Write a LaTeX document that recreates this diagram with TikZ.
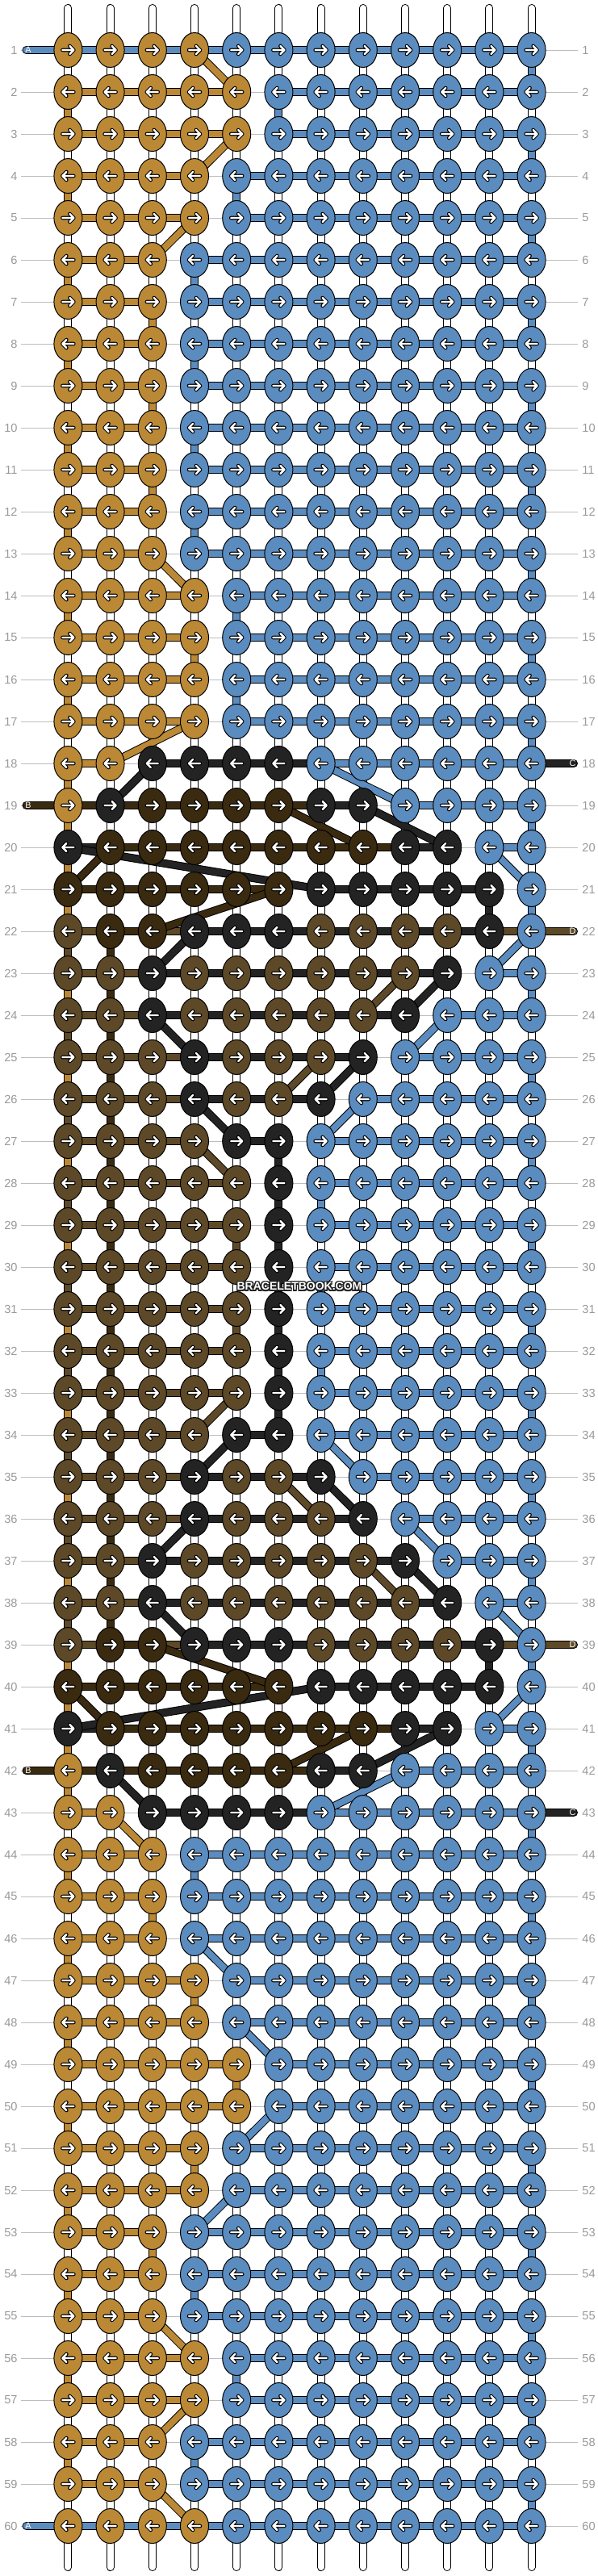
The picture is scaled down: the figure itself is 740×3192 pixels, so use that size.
\documentclass[tikz,border=0pt]{standalone}
\usepackage{fontspec}
\setmainfont{Liberation Sans}
\usetikzlibrary{shapes.geometric}
\definecolor{cg}{HTML}{BB8935}
\definecolor{cb}{HTML}{5B8CBF}
\definecolor{cd}{HTML}{3A2A0F}
\definecolor{cm}{HTML}{5D4927}
\definecolor{ck}{HTML}{232323}
\definecolor{cw}{HTML}{FFFFFF}
\definecolor{lbl}{HTML}{9A9A9A}
\definecolor{rowline}{HTML}{BDBDBD}
\pgfdeclarelayer{bgl}\pgfdeclarelayer{strl}\pgfdeclarelayer{barl}\pgfdeclarelayer{diagl}
\pgfsetlayers{bgl,strl,barl,diagl,main}
\tikzset{
 knot/.style={ellipse, draw=black, line width=0.5pt, minimum width=17.5pt, minimum height=21.5pt, inner sep=0pt},
 strand/.style={draw=black, line width=0.5pt, double=#1, double distance=4pt},
 vstr/.style={draw=black, line width=0.5pt, double=#1, double distance=4pt},
 endout/.style={draw=black, line width=5pt, line cap=round},
 endin/.style={draw=#1, line width=4pt, line cap=round},
 arrowout/.style={draw=black, line width=2.3pt, line cap=round, line join=round},
 arrowin/.style={draw=white, line width=1.2pt, line cap=round, line join=round},
 rowlab/.style={text=lbl, font=\fontsize{7.3pt}{8pt}\selectfont, inner sep=0pt},
 rowln/.style={draw=rowline, line width=0.5pt},
 threadlab/.style={text=white, font=\fontsize{5.4pt}{6pt}\selectfont, inner sep=0pt},
 wmfont/.style={font=\fontsize{7pt}{8pt}\bfseries\selectfont, inner sep=0pt}
}
\def\rows{%
1/{g,g,g,g,b,b,b,b,b,b,b,b}/{b,b,b,b,b,b,b,b,b,b,b}/{w,w,w,w,w,w,w,w,w,w,w,b},
2/{g,g,g,g,g,b,b,b,b,b,b,b}/{g,g,g,g,-,b,b,b,b,b,b}/{g,w,w,w,w,b,w,w,w,w,w,w},
3/{g,g,g,g,g,b,b,b,b,b,b,b}/{g,g,g,g,-,b,b,b,b,b,b}/{w,w,w,w,w,w,w,w,w,w,w,b},
4/{g,g,g,g,b,b,b,b,b,b,b,b}/{g,g,g,-,b,b,b,b,b,b,b}/{g,w,w,w,b,w,w,w,w,w,w,w},
5/{g,g,g,g,b,b,b,b,b,b,b,b}/{g,g,g,-,b,b,b,b,b,b,b}/{w,w,w,w,w,w,w,w,w,w,w,b},
6/{g,g,g,b,b,b,b,b,b,b,b,b}/{g,g,-,b,b,b,b,b,b,b,b}/{g,w,w,b,w,w,w,w,w,w,w,w},
7/{g,g,g,b,b,b,b,b,b,b,b,b}/{g,g,-,b,b,b,b,b,b,b,b}/{w,w,g,w,w,w,w,w,w,w,w,b},
8/{g,g,g,b,b,b,b,b,b,b,b,b}/{g,g,-,b,b,b,b,b,b,b,b}/{g,w,w,b,w,w,w,w,w,w,w,w},
9/{g,g,g,b,b,b,b,b,b,b,b,b}/{g,g,-,b,b,b,b,b,b,b,b}/{w,w,g,w,w,w,w,w,w,w,w,b},
10/{g,g,g,b,b,b,b,b,b,b,b,b}/{g,g,-,b,b,b,b,b,b,b,b}/{g,w,w,b,w,w,w,w,w,w,w,w},
11/{g,g,g,b,b,b,b,b,b,b,b,b}/{g,g,-,b,b,b,b,b,b,b,b}/{w,w,g,w,w,w,w,w,w,w,w,b},
12/{g,g,g,b,b,b,b,b,b,b,b,b}/{g,g,-,b,b,b,b,b,b,b,b}/{g,w,w,b,w,w,w,w,w,w,w,w},
13/{g,g,g,b,b,b,b,b,b,b,b,b}/{g,g,-,b,b,b,b,b,b,b,b}/{w,w,w,w,w,w,w,w,w,w,w,b},
14/{g,g,g,g,b,b,b,b,b,b,b,b}/{g,g,g,-,b,b,b,b,b,b,b}/{g,w,w,w,b,w,w,w,w,w,w,w},
15/{g,g,g,g,b,b,b,b,b,b,b,b}/{g,g,g,-,b,b,b,b,b,b,b}/{w,w,w,g,w,w,w,w,w,w,w,b},
16/{g,g,g,g,b,b,b,b,b,b,b,b}/{g,g,g,-,b,b,b,b,b,b,b}/{g,w,w,w,b,w,w,w,w,w,w,w},
17/{g,g,g,g,b,b,b,b,b,b,b,b}/{g,g,g,-,b,b,b,b,b,b,b}/{w,w,w,w,w,w,w,w,w,w,w,b},
18/{g,g,k,k,k,k,b,b,b,b,b,b}/{g,-,k,k,k,k,b,b,b,b,b}/{g,w,w,w,w,w,w,w,w,w,w,w},
19/{g,k,d,d,d,d,k,k,b,b,b,b}/{d,d,d,d,d,d,k,-,b,b,b}/{g,w,w,w,w,w,w,w,w,w,w,b},
20/{k,d,d,d,d,d,d,d,k,k,b,b}/{k,d,d,d,d,d,d,d,k,-,b}/{g,w,w,w,w,w,w,w,w,w,w,w},
21/{d,d,d,d,d,d,k,k,k,k,k,b}/{d,d,d,d,d,-,k,k,k,k,-}/{g,w,w,w,w,w,w,w,w,w,k,b},
22/{m,d,d,k,k,k,m,m,m,m,k,b}/{m,d,m,k,k,k,k,k,k,k,m}/{m,d,w,w,w,w,w,w,w,w,w,w},
23/{m,m,k,m,m,m,m,m,m,k,b,b}/{m,m,k,k,k,k,k,k,k,-,b}/{g,d,w,w,w,w,w,w,w,w,w,b},
24/{m,m,k,m,m,m,m,m,k,b,b,b}/{m,m,k,k,k,k,k,k,-,b,b}/{m,d,w,w,w,w,w,w,w,w,w,w},
25/{m,m,m,k,m,m,m,k,b,b,b,b}/{m,m,m,k,k,k,k,-,b,b,b}/{g,d,w,w,w,w,w,w,w,w,w,b},
26/{m,m,m,k,m,m,k,b,b,b,b,b}/{m,m,m,k,k,k,-,b,b,b,b}/{m,d,w,w,w,w,w,w,w,w,w,w},
27/{m,m,m,m,k,k,b,b,b,b,b,b}/{m,m,m,-,k,-,b,b,b,b,b}/{g,d,w,w,w,k,w,w,w,w,w,b},
28/{m,m,m,m,m,k,b,b,b,b,b,b}/{m,m,m,m,-,-,b,b,b,b,b}/{m,d,w,w,w,k,b,w,w,w,w,w},
29/{m,m,m,m,m,k,b,b,b,b,b,b}/{m,m,m,m,-,-,b,b,b,b,b}/{g,d,w,w,m,k,w,w,w,w,w,b},
30/{m,m,m,m,m,k,b,b,b,b,b,b}/{m,m,m,m,-,-,b,b,b,b,b}/{m,d,w,w,w,k,b,w,w,w,w,w},
31/{m,m,m,m,m,k,b,b,b,b,b,b}/{m,m,m,m,-,-,b,b,b,b,b}/{g,d,w,w,m,k,w,w,w,w,w,b},
32/{m,m,m,m,m,k,b,b,b,b,b,b}/{m,m,m,m,-,-,b,b,b,b,b}/{m,d,w,w,w,k,b,w,w,w,w,w},
33/{m,m,m,m,m,k,b,b,b,b,b,b}/{m,m,m,m,-,-,b,b,b,b,b}/{g,d,w,w,w,k,w,w,w,w,w,b},
34/{m,m,m,m,k,k,b,b,b,b,b,b}/{m,m,m,-,k,-,b,b,b,b,b}/{m,d,w,w,w,w,w,w,w,w,w,w},
35/{m,m,m,k,m,m,k,b,b,b,b,b}/{m,m,m,k,k,k,-,b,b,b,b}/{g,d,w,w,w,w,w,w,w,w,w,b},
36/{m,m,m,k,m,m,m,k,b,b,b,b}/{m,m,m,k,k,k,k,-,b,b,b}/{m,d,w,w,w,w,w,w,w,w,w,w},
37/{m,m,k,m,m,m,m,m,k,b,b,b}/{m,m,k,k,k,k,k,k,-,b,b}/{g,d,w,w,w,w,w,w,w,w,w,b},
38/{m,m,k,m,m,m,m,m,m,k,b,b}/{m,m,k,k,k,k,k,k,k,-,b}/{m,d,w,w,w,w,w,w,w,w,w,w},
39/{m,d,d,k,k,k,m,m,m,m,k,b}/{m,d,m,k,k,k,k,k,k,k,m}/{g,w,w,w,w,w,w,w,w,w,k,b},
40/{d,d,d,d,d,d,k,k,k,k,k,b}/{d,d,d,d,d,-,k,k,k,k,-}/{g,w,w,w,w,w,w,w,w,w,w,w},
41/{k,d,d,d,d,d,d,d,k,k,b,b}/{k,d,d,d,d,d,d,d,k,-,b}/{g,w,w,w,w,w,w,w,w,w,w,b},
42/{g,k,d,d,d,d,k,k,b,b,b,b}/{d,d,d,d,d,d,k,-,b,b,b}/{g,w,w,w,w,w,w,w,w,w,w,w},
43/{g,g,k,k,k,k,b,b,b,b,b,b}/{g,-,k,k,k,k,b,b,b,b,b}/{w,w,w,w,w,w,w,w,w,w,w,b},
44/{g,g,g,b,b,b,b,b,b,b,b,b}/{g,g,-,b,b,b,b,b,b,b,b}/{g,w,w,b,w,w,w,w,w,w,w,w},
45/{g,g,g,b,b,b,b,b,b,b,b,b}/{g,g,-,b,b,b,b,b,b,b,b}/{w,w,g,w,w,w,w,w,w,w,w,b},
46/{g,g,g,b,b,b,b,b,b,b,b,b}/{g,g,-,b,b,b,b,b,b,b,b}/{g,w,w,w,w,w,w,w,w,w,w,w},
47/{g,g,g,g,b,b,b,b,b,b,b,b}/{g,g,g,-,b,b,b,b,b,b,b}/{w,w,w,g,w,w,w,w,w,w,w,b},
48/{g,g,g,g,b,b,b,b,b,b,b,b}/{g,g,g,-,b,b,b,b,b,b,b}/{g,w,w,w,w,w,w,w,w,w,w,w},
49/{g,g,g,g,g,b,b,b,b,b,b,b}/{g,g,g,g,-,b,b,b,b,b,b}/{w,w,w,w,g,w,w,w,w,w,w,b},
50/{g,g,g,g,g,b,b,b,b,b,b,b}/{g,g,g,g,-,b,b,b,b,b,b}/{g,w,w,w,w,w,w,w,w,w,w,w},
51/{g,g,g,g,b,b,b,b,b,b,b,b}/{g,g,g,-,b,b,b,b,b,b,b}/{w,w,w,g,w,w,w,w,w,w,w,b},
52/{g,g,g,g,b,b,b,b,b,b,b,b}/{g,g,g,-,b,b,b,b,b,b,b}/{g,w,w,w,w,w,w,w,w,w,w,w},
53/{g,g,g,b,b,b,b,b,b,b,b,b}/{g,g,-,b,b,b,b,b,b,b,b}/{w,w,g,w,w,w,w,w,w,w,w,b},
54/{g,g,g,b,b,b,b,b,b,b,b,b}/{g,g,-,b,b,b,b,b,b,b,b}/{g,w,w,b,w,w,w,w,w,w,w,w},
55/{g,g,g,b,b,b,b,b,b,b,b,b}/{g,g,-,b,b,b,b,b,b,b,b}/{w,w,w,w,w,w,w,w,w,w,w,b},
56/{g,g,g,g,b,b,b,b,b,b,b,b}/{g,g,g,-,b,b,b,b,b,b,b}/{g,w,w,w,b,w,w,w,w,w,w,w},
57/{g,g,g,g,b,b,b,b,b,b,b,b}/{g,g,g,-,b,b,b,b,b,b,b}/{w,w,w,w,w,w,w,w,w,w,w,b},
58/{g,g,g,b,b,b,b,b,b,b,b,b}/{g,g,-,b,b,b,b,b,b,b,b}/{g,w,w,b,w,w,w,w,w,w,w,w},
59/{g,g,g,b,b,b,b,b,b,b,b,b}/{g,g,-,b,b,b,b,b,b,b,b}/{w,w,w,w,w,w,w,w,w,w,w,b},
60/{g,g,g,g,b,b,b,b,b,b,b,b}/{b,b,b,b,b,b,b,b,b,b,b}/{n,n,n,n,n,n,n,n,n,n,n,n}}
\def\threads{tA1/1/L/b/A, tA2/60/L/b/A, tB1/19/L/d/B, tB2/42/L/d/B,
  tC1/18/R/k/C, tC2/43/R/k/C, tD1/22/R/m/D, tD2/39/R/m/D}
\begin{document}
\begin{tikzpicture}[x=0.5pt,y=-0.5pt]
\useasboundingbox (0,0) rectangle (740,3192);
% knots with arrows
\foreach \r/\K/\B/\V in \rows {
  \pgfmathsetmacro\yy{62+52*(\r-1)}
  \pgfmathsetmacro\dir{ifthenelse(mod(\r,2)==1,1,-1)}
  \foreach \kc [count=\i] in \K {
    \pgfmathsetmacro\xx{84.4+52.2*(\i-1)}
    \node[knot, fill=c\kc] (k-\r-\i) at (\xx,\yy) {};
    \begin{scope}[shift={(\xx,\yy)}, xscale=\dir]
      \draw[arrowout] (-7,0) -- (7,0) (2,-5) -- (7,0) -- (2,5);
      \draw[arrowin] (-7,0) -- (7,0) (2,-5) -- (7,0) -- (2,5);
    \end{scope}
  }
}
% row labels
\foreach \r in {1,...,60} {
  \pgfmathsetmacro\yy{62+52*(\r-1)}
  \node[rowlab, anchor=east] (lL-\r) at (22,\yy) {\r};
  \node[rowlab, anchor=west] (lR-\r) at (721,\yy) {\r};
}
% thread end coordinates and letters
\foreach \nm/\r/\side/\col/\lab in \threads {
  \pgfmathsetmacro\yy{62+52*(\r-1)}
  \if\side L
    \coordinate (\nm) at (32.5,\yy);
    \node[threadlab] (lab-\nm) at (35,\yy) {\lab};
  \else
    \coordinate (\nm) at (711,\yy);
    \node[threadlab] (lab-\nm) at (709.5,\yy) {\lab};
  \fi
}
% top and bottom string ends
\foreach \i in {1,...,12} {
  \pgfmathsetmacro\xx{84.4+52.2*(\i-1)}
  \coordinate (top-\i) at (\xx,10);
  \coordinate (bot-\i) at (\xx,3181);
}
% watermark
\foreach \dx/\dy [count=\n] in {-1/0,1/0,0/-1,0/1,-1/-1,1/1,-1/1,1/-1} {
  \node[wmfont, text=ck] (wm-\n) at (371+\dx*1.3, 1594+\dy*1.3) {BRACELETBOOK.COM};
}
\node[wmfont, text=white] (wm) at (371,1594) {BRACELETBOOK.COM};
% ---------- background layer: white page and row lines
\begin{pgfonlayer}{bgl}
\fill[white] (0,0) rectangle (740,3192);
\foreach \r in {1,...,60} {
  \draw[rowln, shorten <=2pt, shorten >=2.5pt] (lL-\r.east) -- (lR-\r.west);
}
\end{pgfonlayer}
% ---------- strings layer
\begin{pgfonlayer}{strl}
\foreach \r/\K/\B/\V in \rows {
  \pgfmathtruncatemacro\rn{\r+1}
  \foreach \vc [count=\i] in \V {
    \if\vc n\else
      \draw[vstr=c\vc] (k-\r-\i.center) -- (k-\rn-\i.center);
    \fi
  }
}
\foreach \i in {1,...,12} {
  \draw[endout] (top-\i) -- (k-1-\i.center);
  \draw[endin=white] (top-\i) -- (k-1-\i.center);
  \draw[endout] (bot-\i) -- (k-60-\i.center);
  \draw[endin=white] (bot-\i) -- (k-60-\i.center);
}
\end{pgfonlayer}
% ---------- bars layer
\begin{pgfonlayer}{barl}
\foreach \r/\K/\B/\V in \rows {
  \foreach \bc [count=\i] in \B {
    \pgfmathtruncatemacro\j{\i+1}
    \if\bc-\else
      \draw[strand=c\bc] (k-\r-\i.center) -- (k-\r-\j.center);
    \fi
  }
}
\foreach \nm/\r/\side/\col/\lab in \threads {
  \if\side L
    \draw[endout] (\nm) -- (k-\r-1.center);
    \draw[endin=c\col] (\nm) -- (k-\r-1.center);
  \else
    \draw[endout] (k-\r-12.center) -- (\nm);
    \draw[endin=c\col] (k-\r-12.center) -- (\nm);
  \fi
}
\end{pgfonlayer}
% ---------- diagonals layer
\begin{pgfonlayer}{diagl}
\foreach \dc/\ra/\ca/\rb/\cc in {g/1/4/2/5, g/3/5/4/4, g/5/4/6/3, g/13/3/14/4, g/17/4/18/2,
  k/18/3/19/2, b/18/7/19/9, d/19/6/20/8, k/19/8/20/10, d/20/2/21/1, k/20/1/21/7, b/20/11/21/12,
  d/21/6/22/3, k/22/4/23/3, b/22/12/23/11, m/23/9/24/8, k/23/10/24/9, k/24/3/25/4, b/24/10/25/9,
  m/25/7/26/6, k/25/8/26/7, k/26/4/27/5, b/26/8/27/7, m/27/4/28/5, m/33/5/34/4, k/34/5/35/4,
  b/34/7/35/8, m/35/6/36/7, k/35/7/36/8, k/36/4/37/3, b/36/9/37/10, m/37/8/38/9, k/37/9/38/10,
  k/38/3/39/4, b/38/11/39/12, d/39/3/40/6, d/40/1/41/2, k/40/7/41/1, b/40/12/41/11, d/41/8/42/6,
  k/41/10/42/8, k/42/2/43/3, b/42/9/43/7, g/43/2/44/3, b/46/4/47/5, b/48/5/49/6, b/50/6/51/5,
  b/52/5/53/4, g/55/3/56/4, g/57/4/58/3, g/59/3/60/4} {
  \draw[strand=c\dc] (k-\ra-\ca.center) -- (k-\rb-\cc.center);
}
\end{pgfonlayer}
\end{tikzpicture}
\end{document}
